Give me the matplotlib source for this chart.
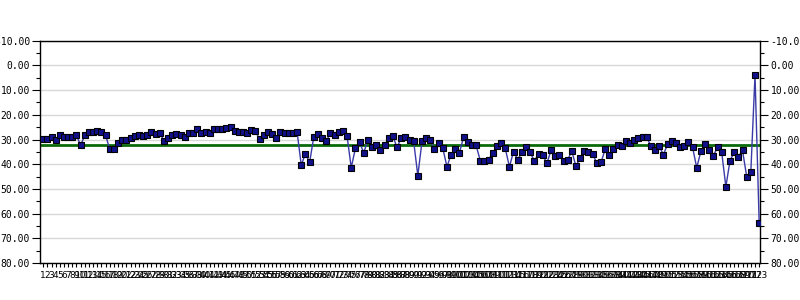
import matplotlib
matplotlib.use("Agg")
import matplotlib.pyplot as plt
from matplotlib.ticker import MultipleLocator, FormatStrFormatter

# values, one per run (1..173)
values = [
    29.6, 29.6, 28.8, 30.2, 28.3, 28.8, 28.8, 28.8, 28.3, 32.4,
    28.2, 26.9, 27.0, 26.4, 26.8, 28.3, 34.0, 34.0, 31.6, 30.4,
    30.4, 29.2, 28.6, 28.3, 28.6, 28.3, 27.1, 27.9, 27.2, 30.6,
    29.2, 28.3, 27.9, 28.3, 28.8, 27.5, 27.5, 25.9, 27.5, 27.1,
    27.5, 25.9, 25.9, 25.9, 25.5, 25.1, 26.7, 27.1, 27.1, 27.5,
    26.3, 26.7, 29.9, 28.2, 27.0, 27.8, 29.4, 27.0, 27.4, 27.4,
    27.4, 27.0, 40.4, 35.7, 39.3, 29.0, 27.8, 29.4, 30.8, 27.4,
    28.2, 27.0, 26.6, 28.6, 41.4, 33.6, 31.2, 35.3, 30.4, 33.2,
    32.4, 34.4, 32.4, 29.4, 28.6, 33.2, 29.4, 29.0, 30.0, 30.8,
    44.6, 30.8, 29.4, 30.4, 34.0, 31.6, 33.6, 41.0, 36.1, 34.0,
    35.3, 29.0, 31.2, 32.4, 32.4, 38.5, 38.5, 38.2, 35.3, 32.8,
    31.6, 33.6, 41.0, 34.9, 38.1, 35.2, 33.2, 35.2, 38.8, 35.7,
    36.1, 39.7, 34.4, 36.5, 36.1, 38.5, 38.1, 34.8, 40.9, 37.3,
    34.8, 35.2, 35.7, 39.7, 39.3, 34.0, 36.1, 34.0, 32.3, 32.8,
    30.6, 31.5, 30.2, 29.4, 29.0, 29.0, 32.8, 34.4, 32.8, 36.1,
    31.9, 30.6, 31.5, 33.2, 32.8, 31.1, 33.2, 41.4, 34.8, 31.9,
    34.4, 36.5, 33.2, 35.2, 49.1, 38.5, 35.2, 36.9, 34.4, 45.0,
    43.0, 3.9, 63.7,
]
labels = [str(i + 1) for i in range(len(values))]
average = 32.1

fig = plt.figure(figsize=(8, 3), dpi=100)
ax = fig.add_axes([0.0506, 0.1233, 0.8994, 0.741])

x = list(range(len(values)))
ax.plot(x, values, color="#3a3aa8", linewidth=1, zorder=3)
ax.plot(x, values, linestyle="none", marker="s", markersize=4,
        markerfacecolor="#10108a", markeredgecolor="black",
        markeredgewidth=0.8, zorder=4)
ax.axhline(average, color="#0a6a0a", linewidth=2, zorder=2)

ax.set_ylim(80, -10)
ax.set_xlim(-0.65, len(values) - 1 + 0.2)
ax.yaxis.set_major_locator(MultipleLocator(10))
ax.yaxis.set_minor_locator(MultipleLocator(5))
ax.yaxis.set_major_formatter(FormatStrFormatter("%.2f"))
ax.grid(axis="y", color="#d8d8d8", linewidth=1, zorder=1)

ax.set_xticks(x)
ax.set_xticklabels(labels, fontsize=6.5)
ax.tick_params(axis="x", length=3, width=0.8, pad=3)
ax.tick_params(axis="y", which="major", length=6, width=0.8,
               right=True, labelright=True, labelsize=7, pad=1.5)
ax.tick_params(axis="y", which="minor", length=3, width=0.8, right=True)
for lab in ax.get_yticklabels():
    lab.set_family("DejaVu Sans Mono")

for s in ax.spines.values():
    s.set_linewidth(1)
    s.set_color("black")

fig.savefig("out.png", dpi=100)
